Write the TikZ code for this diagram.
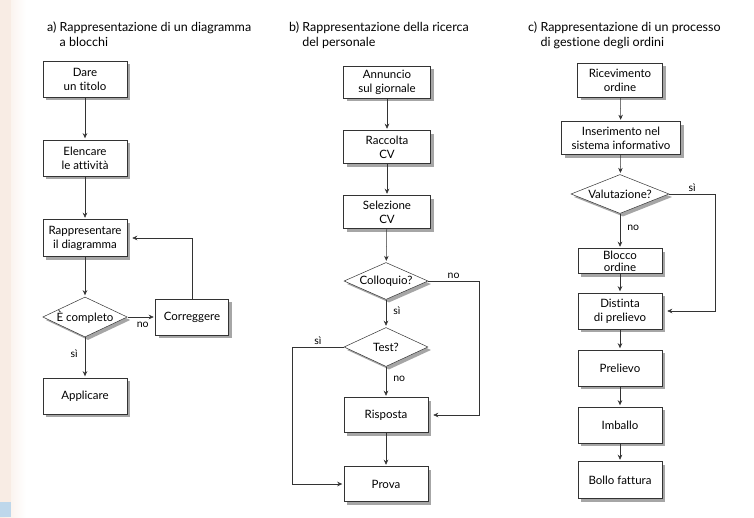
\documentclass[tikz,border=0pt]{standalone}
\usepackage{fontspec}
\setmainfont{Lato}[Ligatures=NoCommon]
\usetikzlibrary{shapes.geometric,arrows.meta,shadows}

\definecolor{bordo}{RGB}{248,236,228}
\definecolor{azzurro}{RGB}{190,215,235}

\tikzset{
  blocco/.style={draw=black!80, fill=white, line width=0.5pt, align=center,
    minimum width=84pt, minimum height=36pt, inner sep=1pt,
    font=\fontsize{11.5}{14}\selectfont,
    drop shadow={shadow xshift=3pt, shadow yshift=-3pt, fill=black!35, opacity=1}},
  decisione/.style={diamond, draw=black!80, fill=white, line width=0.5pt,
    shape aspect=2.2, inner sep=0pt, minimum width=84pt, minimum height=39pt,
    font=\fontsize{11.5}{12.5}\selectfont,
    drop shadow={shadow xshift=3pt, shadow yshift=-3pt, fill=black!35, opacity=1}},
  freccia/.style={draw=black!80, line width=0.5pt, shorten >=1.5pt,
    -{Stealth[length=5pt,width=4.5pt]}},
  etich/.style={font=\fontsize{10.5}{12}\selectfont, inner sep=1pt},
  titolo/.style={anchor=north west, align=left, inner sep=0pt,
    font=\fontsize{12.5}{15}\selectfont}
}

\begin{document}
\begin{tikzpicture}[x=1pt,y=-1pt]
		\useasboundingbox (0,0) rectangle (754,517);
		% bordo della pagina
		\shade[left color=bordo, right color=white] (0,0) rectangle (26,517);
		\fill[bordo] (0,0) rectangle (11,517);
		\fill[azzurro] (0,502) rectangle (11,517);
		
		% a) diagramma a blocchi
		\node[titolo] at (47,22) {a) Rappresentazione di un diagramma\\\phantom{a) }a blocchi};
		\node[blocco] (titolo) at (85,79) {Dare\\un titolo};
		\node[blocco] (elenco) at (85,158) {Elencare\\le attività};
		\node[blocco, minimum height=37pt] (rappr) at (85,238) {Rappresentare\\il diagramma};
		\node[decisione, minimum width=83pt, minimum height=40pt] (completo) at (85,317) {È completo};
		\node[blocco, minimum width=73pt] (correggi) at (192,317) {Correggere};
		\node[blocco] (applica) at (85,396) {Applicare};
		\draw[freccia] (titolo) -- (elenco);
		\draw[freccia] (elenco) -- (rappr);
		\draw[freccia] (rappr) -- (completo);
		\draw[freccia] (completo) -- node[etich, below=4pt, pos=0.55] {no} (correggi);
		\draw[freccia] (completo) -- node[etich, left=6pt, pos=0.4] {sì} (applica);
		\draw[freccia, shorten >=5pt] (correggi.north) |- (rappr.east);
		
		% b) ricerca del personale
		\node[titolo] at (289,22) {b) Rappresentazione della ricerca\\\phantom{b) }del personale};
		\node[blocco, minimum width=87pt, minimum height=32pt] (annuncio) at (387,82) {Annuncio\\sul giornale};
		\node[blocco, minimum width=87pt, minimum height=33pt] (raccolta) at (387,147) {Raccolta\\CV};
		\node[blocco, minimum width=87pt, minimum height=33pt] (selezione) at (387,212) {Selezione\\CV};
		\node[decisione, minimum height=37pt] (colloquio) at (386,281) {Colloquio?};
		\node[decisione] (test) at (386,347) {Test?};
		\node[blocco, minimum height=35pt] (risposta) at (386,415) {Risposta};
		\node[blocco, minimum height=35pt] (prova) at (386,484) {Prova};
		\coordinate (angoloNo) at (479,281);
		\coordinate (angoloSi) at (292,347);
		\draw[freccia] (annuncio) -- (raccolta);
		\draw[freccia] (raccolta) -- (selezione);
		\draw[freccia] (selezione) -- (colloquio);
		\draw[freccia] (colloquio) -- node[etich, right=6pt, pos=0.4] {sì} (test);
		\draw[freccia] (test) -- node[etich, right=6pt, pos=0.4] {no} (risposta);
		\draw[freccia] (risposta) -- (prova);
		\draw[freccia, shorten >=5pt] (colloquio.east) -- node[etich, above=1pt] {no} (angoloNo) |- (risposta.east);
		\draw[freccia] (test.west) -- node[etich, above=1pt] {sì} (angoloSi) |- (prova.west);
		
		% c) gestione degli ordini
		\node[titolo] at (528,22) {c) Rappresentazione di un processo\\\phantom{c) }di gestione degli ordini};
		\node[blocco, minimum width=85pt, minimum height=34pt] (ricevimento) at (620,80) {Ricevimento\\ordine};
		\node[blocco, minimum width=119pt, minimum height=33pt] (inserimento) at (621,138) {Inserimento nel\\sistema informativo};
		\node[decisione, minimum width=98pt, minimum height=39pt] (valutazione) at (620,194) {Valutazione?};
		\node[blocco, minimum height=25pt, font=\fontsize{11.5}{12}\selectfont] (bloccoord) at (620,261) {Blocco\\ordine};
		\node[blocco] (distinta) at (620,311) {Distinta\\di prelievo};
		\node[blocco] (prelievo) at (620,368) {Prelievo};
		\node[blocco] (imballo) at (620,425) {Imballo};
		\node[blocco, minimum height=37pt] (bollo) at (620,480) {Bollo fattura};
		\coordinate (angoloC) at (715,194);
		\draw[freccia] (ricevimento) -- (inserimento);
		\draw[freccia] (inserimento) -- (valutazione);
		\draw[freccia] (valutazione) -- node[etich, right=6pt, pos=0.4] {no} (bloccoord);
		\draw[freccia] (bloccoord) -- (distinta);
		\draw[freccia] (distinta) -- (prelievo);
		\draw[freccia] (prelievo) -- (imballo);
		\draw[freccia] (imballo) -- (bollo);
		\draw[freccia, shorten >=5pt] (valutazione.east) -- node[etich, above=1pt] {sì} (angoloC) |- (distinta.east);
	\end{tikzpicture}
\end{document}
